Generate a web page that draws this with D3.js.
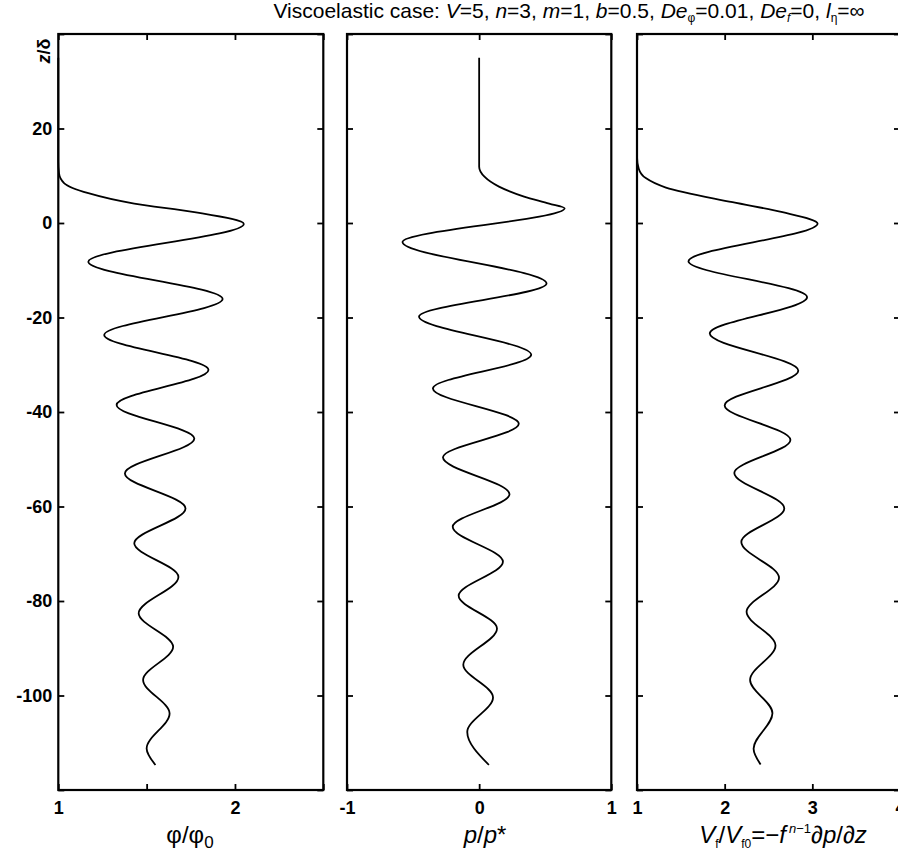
<!DOCTYPE html>
<html><head><meta charset="utf-8">
<script src="https://cdn.jsdelivr.net/npm/d3@7"></script>
<style>
body{margin:0;background:#fff}
svg{display:block}
text{font-family:"Liberation Sans",Arial,Helvetica,sans-serif;fill:#000}
</style>
</head><body>
<svg id="c" width="898" height="852"></svg>
<script>
// ---------------- data ----------------
const zTicks = [40, 20, 0, -20, -40, -60, -80, -100, -120];
const zTickLabels = ["", "20", "0", "-20", "-40", "-60", "-80", "-100", ""];

const phiTicks = [1, 1.5, 2, 2.5];
const phiTickLabels = ["1", "", "2", ""];
const pTicks = [-1, 0, 1];
const pTickLabels = ["-1", "0", "1"];
const vTicks = [1, 2, 3, 4];
const vTickLabels = ["1", "2", "3", "4"];

// phi/phi0 vs z/delta
const phiZ   = [35, 13, 10.5, 8.4, 6.3, 4.1, 2.3, -0.2, -8.2, -16.1, -23.7, -31.1, -38.5, -45.6, -53.0, -60.4, -67.8, -74.9, -82.6, -89.7, -96.7, -103.8, -111.2, -114.7];
const phiVal = [1, 1, 1.004, 1.034, 1.17, 1.43, 1.77, 2.05, 1.17, 1.93, 1.26, 1.85, 1.33, 1.77, 1.377, 1.72, 1.43, 1.68, 1.455, 1.65, 1.48, 1.63, 1.50, 1.55];

// p/p* vs z/delta
const pZ   = [35, 11.9, 9.8, 7.7, 5.6, 4.1, 3.1, -4.0, -12.8, -19.8, -27.9, -35.0, -42.5, -49.6, -57.4, -64.3, -71.7, -78.9, -85.8, -93.5, -100.4, -107.7, -114.7];
const pVal = [0, 0, 0.04, 0.15, 0.34, 0.53, 0.647, -0.58, 0.51, -0.455, 0.394, -0.35, 0.30, -0.274, 0.23, -0.20, 0.18, -0.155, 0.135, -0.12, 0.105, -0.09, 0.074];

// Vf/Vf0 vs z/delta
const vZ   = [35, 14, 11.5, 9.5, 7.5, 4.4, 2.3, -0.1, -8.1, -15.7, -23.4, -31.25, -38.6, -45.9, -52.9, -60.4, -67.5, -75.1, -82.3, -89.4, -96.7, -103.75, -111.25, -114.6];
const vVal = [1, 1, 1.02, 1.1, 1.33, 2.09, 2.66, 3.06, 1.587, 2.94, 1.83, 2.84, 2.0, 2.75, 2.11, 2.68, 2.19, 2.62, 2.25, 2.58, 2.29, 2.545, 2.33, 2.41];

// ---------------- layout ----------------
const svg = d3.select("#c");
const yTop = 34, yBot = 790;
const y = d3.scaleLinear().domain([40, -120]).range([yTop, yBot]);

const panels = [
  {x0: 58.3, x1: 323.3, dom: [1, 2.5], ticks: phiTicks, labels: phiTickLabels, zs: phiZ, vs: phiVal, yLabels: true},
  {x0: 347,  x1: 611.3, dom: [-1, 1],  ticks: pTicks,   labels: pTickLabels,   zs: pZ,   vs: pVal,   yLabels: false},
  {x0: 637,  x1: 900,   dom: [1, 4],   ticks: vTicks,   labels: vTickLabels,   zs: vZ,   vs: vVal,   yLabels: false}
];

const TS = 6; // tick size (inward)

panels.forEach((P, i) => {
  const x = d3.scaleLinear().domain(P.dom).range([P.x0, P.x1]);
  const g = svg.append("g");

  const pts = P.zs.map((z, k) => ({z, v: P.vs[k]}));
  g.append("path")
    .datum(pts)
    .attr("fill", "none")
    .attr("stroke", "#000")
    .attr("stroke-width", 1.8)
    .attr("stroke-linejoin", "round")
    .attr("d", d3.line().x(d => x(d.v)).y(d => y(d.z)).curve(d3.curveMonotoneY));

  const gl = g.append("g").attr("transform", `translate(${P.x0},0)`)
    .call(d3.axisLeft(y).tickValues(zTicks).tickSize(-TS).tickPadding(6)
      .tickFormat((d, k) => P.yLabels ? zTickLabels[k] : ""));
  const gr = g.append("g").attr("transform", `translate(${P.x1},0)`)
    .call(d3.axisRight(y).tickValues(zTicks).tickSize(-TS).tickFormat(""));
  const gb = g.append("g").attr("transform", `translate(0,${yBot})`)
    .call(d3.axisBottom(x).tickValues(P.ticks).tickSize(-TS).tickPadding(11)
      .tickFormat((d, k) => P.labels[k]));
  const gt = g.append("g").attr("transform", `translate(0,${yTop})`)
    .call(d3.axisTop(x).tickValues(P.ticks).tickSize(-TS).tickFormat(""));

  [gl, gr, gb, gt].forEach(a => {
    a.select(".domain").remove();
    a.selectAll(".tick line").attr("stroke", "#000").attr("stroke-width", 1.8);
    a.selectAll("text").attr("font-size", 18).attr("font-weight", "bold")
      .attr("font-family", '"Liberation Sans",Arial,sans-serif').attr("fill", "#000");
  });

  g.append("rect")
    .attr("x", P.x0).attr("y", yTop)
    .attr("width", P.x1 - P.x0).attr("height", yBot - yTop)
    .attr("fill", "none").attr("stroke", "#000").attr("stroke-width", 2.2);
});

// ---------------- axis labels ----------------
const labY = 843;
const l1 = svg.append("text").attr("x", 190).attr("y", labY).attr("text-anchor", "middle")
  .attr("font-size", 24);
l1.append("tspan").text("φ/φ");
l1.append("tspan").attr("dy", 5).attr("font-size", 17).text("0");

const l2 = svg.append("text").attr("x", 485).attr("y", labY).attr("text-anchor", "middle")
  .attr("font-size", 24);
l2.append("tspan").attr("font-style", "italic").text("p");
l2.append("tspan").text("/");
l2.append("tspan").attr("font-style", "italic").text("p");
l2.append("tspan").text("*");

const l3 = svg.append("text").attr("x", 783).attr("y", labY).attr("text-anchor", "middle")
  .attr("font-size", 24);
l3.append("tspan").attr("font-style", "italic").text("V");
l3.append("tspan").attr("dy", 5).attr("font-size", 12).text("f");
l3.append("tspan").attr("dy", -5).text("/");
l3.append("tspan").attr("font-style", "italic").text("V");
l3.append("tspan").attr("dy", 5).attr("font-size", 12).text("f0");
l3.append("tspan").attr("dy", -5).text("=−");
l3.append("tspan").attr("font-style", "italic").text("f");
l3.append("tspan").attr("dy", -10).attr("dx", 3).attr("font-size", 13).attr("font-style", "italic").text("n");
l3.append("tspan").attr("font-size", 13).text("−1");
l3.append("tspan").attr("dy", 10).text("∂");
l3.append("tspan").attr("font-style", "italic").text("p");
l3.append("tspan").text("/∂");
l3.append("tspan").attr("font-style", "italic").text("z");

const yl = svg.append("text").attr("transform", "translate(50,51) rotate(-90)")
  .attr("text-anchor", "middle").attr("font-size", 18).attr("font-weight", "bold");
yl.append("tspan").attr("font-style", "italic").text("z");
yl.append("tspan").text("/δ");

// ---------------- title ----------------
const t = svg.append("text").attr("x", 569).attr("y", 18).attr("text-anchor", "middle")
  .attr("font-size", 21);
const parts = [
  ["Viscoelastic case: ", null], ["V", "i"], ["=5, ", null], ["n", "i"], ["=3, ", null],
  ["m", "i"], ["=1, ", null], ["b", "i"], ["=0.5, ", null], ["De", "i"], ["φ", "sub"],
  ["=0.01, ", null], ["De", "i"], ["f", "subi"], ["=0, ", null], ["l", "i"], ["η", "sub"], ["=∞", null]
];
let sub = false;
parts.forEach(([s, k]) => {
  const ts = t.append("tspan").text(s);
  if (k === "i") ts.attr("font-style", "italic");
  if (k === "sub" || k === "subi") {
    ts.attr("font-size", 12).attr("dy", sub ? 0 : 4);
    if (k === "subi") ts.attr("font-style", "italic");
    sub = true;
  } else if (sub) {
    ts.attr("dy", -4);
    sub = false;
  }
});
</script>
</body></html>
